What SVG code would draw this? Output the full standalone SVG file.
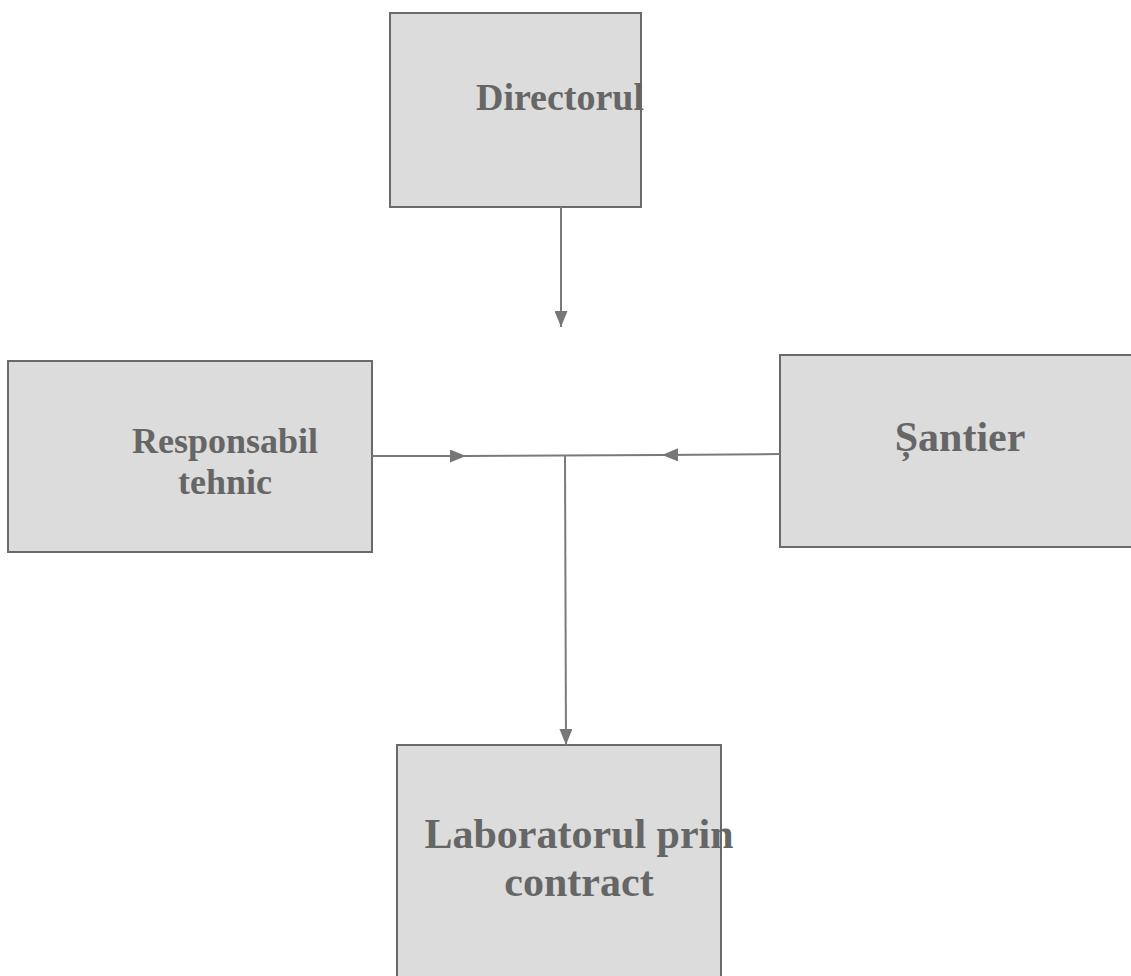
<svg xmlns="http://www.w3.org/2000/svg" width="1131" height="976" viewBox="0 0 1131 976">
<style>
.box{fill:#dcdcdc;stroke:#6a6a6a;stroke-width:2}
.lbl{font-family:"Liberation Serif","Times New Roman",serif;font-weight:bold;fill:#666666;text-anchor:middle}
.ln{stroke:#7a7a7a;stroke-width:2;fill:none}
</style>
<defs>
<marker id="ah" viewBox="0 0 16 13" refX="16" refY="6.5" markerWidth="16" markerHeight="13" markerUnits="userSpaceOnUse" orient="auto">
<path d="M0,0 L16,6.5 L0,13 Z" fill="#777777"/>
</marker>
</defs>
<rect width="1131" height="976" fill="#ffffff"/>
<g id="directorul">
<rect class="box" x="390" y="13" width="251" height="194"/>
<text class="lbl" x="560" y="110" font-size="38">Directorul</text>
</g>
<g id="responsabil">
<rect class="box" x="8" y="361" width="364" height="191"/>
<text class="lbl" x="225" y="453" font-size="36">Responsabil</text>
<text class="lbl" x="225" y="494" font-size="36">tehnic</text>
</g>
<g id="santier">
<rect class="box" x="780" y="355" width="360" height="192"/>
<text class="lbl" x="960" y="451" font-size="42">Șantier</text>
</g>
<g id="laborator">
<rect class="box" x="397" y="745" width="324" height="240"/>
<text class="lbl" x="579" y="848" font-size="42">Laboratorul prin</text>
<text class="lbl" x="579" y="896" font-size="42">contract</text>
</g>
<g id="connectors">
<line class="ln" x1="561" y1="207" x2="561" y2="327" marker-end="url(#ah)"/>
<line class="ln" x1="372" y1="456" x2="466" y2="456" marker-end="url(#ah)"/>
<line class="ln" x1="466" y1="456" x2="662" y2="455"/>
<line class="ln" x1="780" y1="454" x2="662" y2="455" marker-end="url(#ah)"/>
<line class="ln" x1="565" y1="456" x2="566" y2="745" marker-end="url(#ah)"/>
</g>
</svg>
